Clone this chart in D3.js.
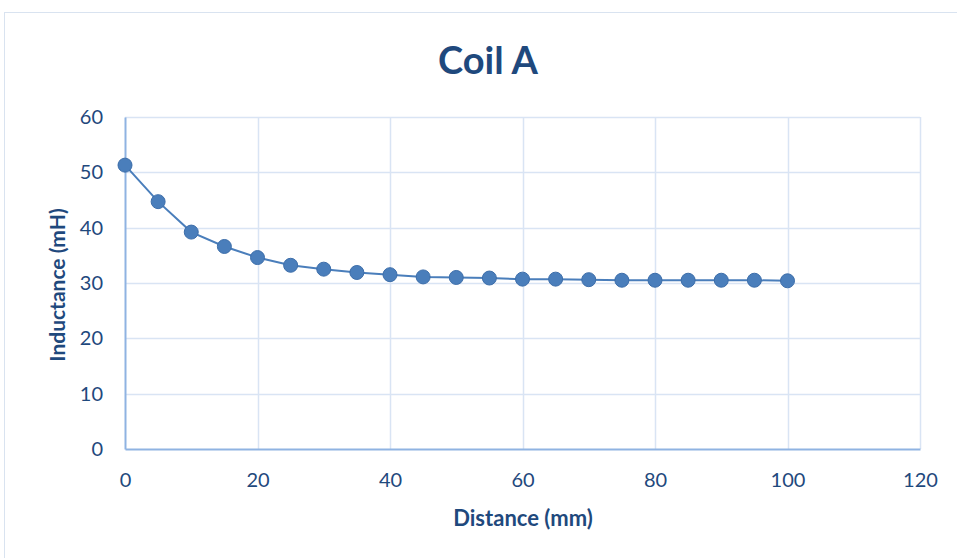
<!DOCTYPE html>
<html><head><meta charset="utf-8">
<script src="https://cdnjs.cloudflare.com/ajax/libs/d3/7.8.5/d3.min.js"></script>
<style>body{margin:0;background:#fff;} svg{display:block;}</style>
</head><body><svg id="c" width="957" height="558"></svg>
<script>
const distances = [0,5,10,15,20,25,30,35,40,45,50,55,60,65,70,75,80,85,90,95,100];
const inductance = [51.3,44.7,39.2,36.6,34.6,33.2,32.5,31.9,31.5,31.1,31.0,30.9,30.7,30.7,30.6,30.5,30.5,30.5,30.5,30.5,30.4];
const xTicks = [0,20,40,60,80,100,120];
const yTicks = [0,10,20,30,40,50,60];
const title = "Coil A";
const xTitle = "Distance (mm)";
const yTitle = "Inductance (mH)";

const svg = d3.select("#c");
const font = "Lato, 'Open Sans', sans-serif";
const textColor = "#1f497d";
svg.append("rect").attr("x",4.5).attr("y",12.5).attr("width",960).attr("height",560)
  .attr("fill","#fff").attr("stroke","#d9e3f0").attr("stroke-width",1);

const x = d3.scaleLinear().domain([0,120]).range([125,920]);
const y = d3.scaleLinear().domain([0,60]).range([449,117]);

const grid = svg.append("g");
grid.selectAll(".hg").data(yTicks.filter(d=>d>0)).enter().append("line")
  .attr("x1",x(0)).attr("x2",x(120)).attr("y1",d=>Math.round(y(d))+0.5).attr("y2",d=>Math.round(y(d))+0.5)
  .attr("stroke","#d9e4f4").attr("stroke-width",1.5);
grid.selectAll(".vg").data(xTicks.filter(d=>d>0)).enter().append("line")
  .attr("y1",y(0)).attr("y2",y(60)).attr("x1",d=>Math.round(x(d))+0.5).attr("x2",d=>Math.round(x(d))+0.5)
  .attr("stroke","#d9e4f4").attr("stroke-width",1.5);

const xAxis = svg.append("g").attr("transform",`translate(0,${y(0)})`)
  .call(d3.axisBottom(x).tickValues(xTicks).tickSize(0).tickPadding(24));
const yAxis = svg.append("g").attr("transform",`translate(${x(0)},0)`)
  .call(d3.axisLeft(y).tickValues(yTicks).tickSize(0).tickPadding(22));
[xAxis,yAxis].forEach(a=>{
  a.select(".domain").attr("stroke","#8fb3e2").attr("stroke-width",2);
  a.selectAll("text").attr("fill",textColor).style("font-family",font).style("font-size","20px");
});

const pts = distances.map((d,i)=>[d,inductance[i]]);
svg.append("path").datum(pts)
  .attr("d",d3.line().x(d=>x(d[0])).y(d=>y(d[1])))
  .attr("fill","none").attr("stroke","#4a7ebb").attr("stroke-width",2);
svg.selectAll(".pt").data(pts).enter().append("circle")
  .attr("cx",d=>x(d[0])).attr("cy",d=>y(d[1])).attr("r",7)
  .attr("fill","#4a7ebb").attr("stroke","#3d6eaa").attr("stroke-width",1);

svg.append("text").attr("x",488).attr("y",74).attr("text-anchor","middle")
  .attr("fill",textColor).style("font-family",font).style("font-weight","bold").style("font-size","38px").text(title);
svg.append("text").attr("x",523).attr("y",526).attr("text-anchor","middle")
  .attr("fill",textColor).style("font-family",font).style("font-weight","bold").style("font-size","22px").text(xTitle);
svg.append("text").attr("transform","translate(65,285) rotate(-90)").attr("text-anchor","middle")
  .attr("fill",textColor).style("font-family",font).style("font-weight","bold").style("font-size","21px").text(yTitle);
</script></body></html>
